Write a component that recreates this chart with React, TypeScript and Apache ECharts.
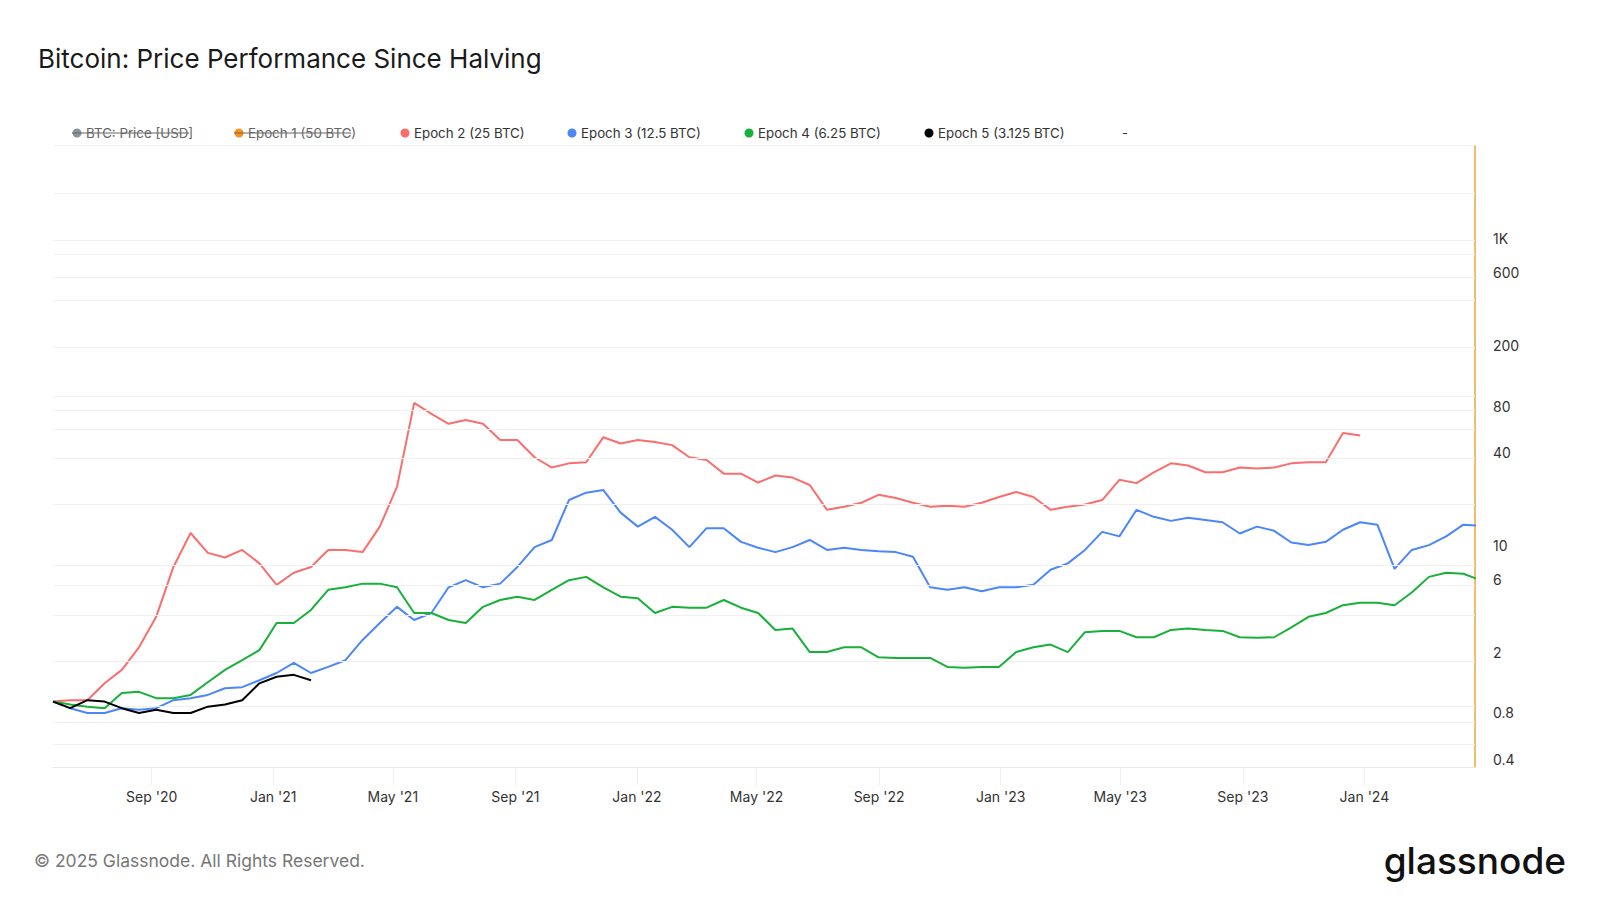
import React, { useRef, useEffect } from "react";
import * as echarts from "echarts";

// samples are taken every ~17.26 days from the left edge of the chart
const startDate = "2020-05-25";
const endDate = "2024-04-21";
const stepDays = 17.26;

const epoch2 = [0.95, 0.97, 0.97, 1.25, 1.53, 2.15, 3.4, 7.2, 12, 8.9, 8.3, 9.3, 7.6, 5.5, 6.6, 7.2, 9.3, 9.3, 9.0, 13.2, 24, 85, 72, 62, 65.7, 62, 48.6, 48.6, 37.5, 32.1, 34.2, 34.8, 50.7, 46.1, 48.6, 47.1, 45, 37.5, 36, 29.3, 29.3, 25.6, 28.5, 27.6, 24.7, 17.0, 17.8, 18.9, 21.3, 20.3, 18.9, 17.8, 18.1, 17.8, 18.9, 20.6, 22.2, 20.6, 17.0, 17.8, 18.4, 19.7, 26.7, 25.4, 29.9, 34.2, 33.1, 29.9, 29.9, 32.1, 31.6, 32.1, 34.2, 34.8, 34.8, 54, 52];
const epoch3 = [0.95, 0.86, 0.8, 0.8, 0.86, 0.84, 0.86, 0.97, 1.0, 1.05, 1.16, 1.18, 1.31, 1.46, 1.7, 1.46, 1.6, 1.77, 2.4, 3.1, 3.95, 3.24, 3.6, 5.3, 5.9, 5.3, 5.6, 7.2, 9.7, 10.8, 19.7, 22, 22.9, 16.3, 13.2, 15.3, 12.6, 9.7, 12.9, 12.9, 10.5, 9.6, 9.0, 9.7, 10.8, 9.3, 9.6, 9.3, 9.1, 9.0, 8.4, 5.3, 5.1, 5.3, 5.0, 5.3, 5.3, 5.5, 6.9, 7.6, 9.3, 12.2, 11.4, 17, 15.3, 14.4, 15.1, 14.6, 14.1, 11.9, 13.2, 12.4, 10.4, 10.0, 10.5, 12.6, 14.1, 13.6, 7.0, 9.3, 10.0, 11.4, 13.6, 13.4];
const epoch4 = [0.95, 0.91, 0.88, 0.86, 1.08, 1.1, 1.0, 1.0, 1.05, 1.27, 1.53, 1.77, 2.06, 3.1, 3.1, 3.77, 5.1, 5.3, 5.6, 5.6, 5.3, 3.6, 3.6, 3.24, 3.1, 3.95, 4.38, 4.6, 4.38, 5.1, 5.9, 6.2, 5.3, 4.6, 4.5, 3.6, 3.95, 3.9, 3.9, 4.38, 3.9, 3.6, 2.79, 2.85, 2.0, 2.0, 2.15, 2.15, 1.85, 1.83, 1.83, 1.83, 1.6, 1.58, 1.6, 1.6, 2.0, 2.15, 2.24, 2.0, 2.7, 2.75, 2.75, 2.5, 2.5, 2.79, 2.85, 2.79, 2.75, 2.5, 2.48, 2.5, 2.9, 3.4, 3.6, 4.05, 4.2, 4.2, 4.05, 4.9, 6.2, 6.6, 6.5, 5.9];
const epoch5 = [0.95, 0.86, 0.97, 0.95, 0.86, 0.8, 0.84, 0.8, 0.8, 0.88, 0.91, 0.97, 1.25, 1.38, 1.42, 1.31];

const yLabels = [0.4, 0.8, 2, 6, 10, 40, 80, 200, 600, 1000];
const gridValues = [0.5, 0.7, 0.88, 1.75, 3.5, 5.5, 7.4, 18.6, 37, 57, 76, 94, 196, 395, 565, 800, 975, 2000];
const xTicks = ["2020-09-01", "2021-01-01", "2021-05-01", "2021-09-01", "2022-01-01", "2022-05-01", "2022-09-01", "2023-01-01", "2023-05-01", "2023-09-01", "2024-01-01"];
const months = ["Jan", "Feb", "Mar", "Apr", "May", "Jun", "Jul", "Aug", "Sep", "Oct", "Nov", "Dec"];

const legendItems = [
	{ name: "BTC: Price [USD]", color: "#8a9499", x: 77, off: true },
	{ name: "Epoch 1 (50 BTC)", color: "#f7931a", x: 239, off: true },
	{ name: "Epoch 2 (25 BTC)", color: "#fb6e6e", x: 405, off: false },
	{ name: "Epoch 3 (12.5 BTC)", color: "#4b87fb", x: 572, off: false },
	{ name: "Epoch 4 (6.25 BTC)", color: "#18b03a", x: 749, off: false },
	{ name: "Epoch 5 (3.125 BTC)", color: "#000000", x: 929, off: false },
];

const t0 = Date.parse(startDate);
const toSeries = (vals: number[]) => vals.map((v, i) => [t0 + i * stepDays * 86400000, v]);
const tickValues = xTicks.map((d) => Date.parse(d));

const App: React.FC = () => {
	const chartRef = useRef<HTMLDivElement | null>(null);

	useEffect(() => {
		if (!chartRef.current) return;
		const chart = echarts.init(chartRef.current, undefined, { renderer: "svg" });

		const legendGraphics: any[] = [];
		legendItems.forEach((it) => {
			legendGraphics.push({ type: "circle", shape: { cx: it.x, cy: 133, r: 4.5 }, style: { fill: it.color } });
			legendGraphics.push({
				type: "text",
				x: it.x + 9,
				y: 133,
				style: { text: it.name, font: "13.3px Inter", fill: it.off ? "#666" : "#333", textVerticalAlign: "middle" },
			});
			if (it.off) {
				legendGraphics.push({
					type: "line",
					shape: { x1: it.x - 5, y1: 133, x2: it.x + 9 + it.name.length * 6.45, y2: 133 },
					style: { stroke: "#666", lineWidth: 1 },
				});
			}
		});
		legendGraphics.push({ type: "text", x: 1122, y: 133, style: { text: "-", font: "13px Inter", fill: "#333", textVerticalAlign: "middle" } });

		const gridLines = gridValues.map((v) => ({ yAxis: v, label: { show: false } }));
		const labelLines = yLabels.map((v) => ({
			yAxis: v,
			lineStyle: { color: "rgba(0,0,0,0)" },
			label: { show: true, position: "end", distance: 18, formatter: v >= 1000 ? v / 1000 + "K" : String(v), color: "#333", fontSize: 14, fontFamily: "Inter" },
		}));

		const line = (name: string, color: string, data: number[], z: number, extra: any = {}) => ({
			name,
			type: "line",
			data: toSeries(data),
			showSymbol: false,
			z,
			lineStyle: { color, width: 2 },
			itemStyle: { color },
			...extra,
		});

		chart.setOption({
			animation: false,
			textStyle: { fontFamily: "Inter" },
			title: {
				text: "Bitcoin: Price Performance Since Halving",
				left: 33,
				top: 40,
				textStyle: { fontSize: 26, fontWeight: 400, color: "#1a1a1a", fontFamily: "Inter" },
			},
			graphic: [
				...legendGraphics,
				{ type: "rect", shape: { x: 53, y: 145, width: 1422, height: 1 }, style: { fill: "#f0f0f0" } },
				{ type: "text", x: 34, y: 860, style: { text: "© 2025 Glassnode. All Rights Reserved.", font: "17.5px Inter", fill: "#777", textVerticalAlign: "middle" } },
				{ type: "text", x: 1566, y: 860, style: { text: "glassnode", font: "500 37px Inter", fill: "#111", textAlign: "right", textVerticalAlign: "middle" } },
			],
			grid: { left: 53, right: 125, top: 146, bottom: 133 },
			xAxis: {
				type: "value",
				min: Date.parse(startDate),
				max: Date.parse(endDate),
				axisLine: { show: true, lineStyle: { color: "#e8e8e8" } },
				axisTick: { show: true, length: 18, lineStyle: { color: "#eeeeee" }, customValues: tickValues },
				splitLine: { show: false },
				axisLabel: {
					customValues: tickValues,
					formatter: (val: number) => {
						const d = new Date(val);
						return months[d.getUTCMonth()] + " '" + String(d.getUTCFullYear()).slice(2);
					},
					color: "#333",
					fontSize: 14,
					margin: 22,
					fontFamily: "Inter",
				},
			},
			yAxis: {
				type: "log",
				position: "right",
				min: 0.355,
				max: 4050,
				axisLine: { show: true, lineStyle: { color: "#f7a334", width: 1.5 } },
				axisTick: { show: false },
				axisLabel: { show: false },
				splitLine: { show: false },
			},
			series: [
				line("Epoch 2 (25 BTC)", "#fb6e6e", epoch2, 3),
				line("Epoch 3 (12.5 BTC)", "#4b87fb", epoch3, 4),
				line("Epoch 4 (6.25 BTC)", "#18b03a", epoch4, 5, {
					markLine: {
						silent: true,
						symbol: "none",
						animation: false,
						lineStyle: { color: "#f0f0f0", type: "solid", width: 1 },
						data: [...gridLines, ...labelLines],
					},
				}),
				line("Epoch 5 (3.125 BTC)", "#000000", epoch5, 6),
			],
		});

		return () => {
			chart.dispose();
		};
	}, []);

	return <div ref={chartRef} style={{ position: "absolute", left: 0, top: 0, width: "1600px", height: "900px", background: "#fff" }} />;
};

export default App;
